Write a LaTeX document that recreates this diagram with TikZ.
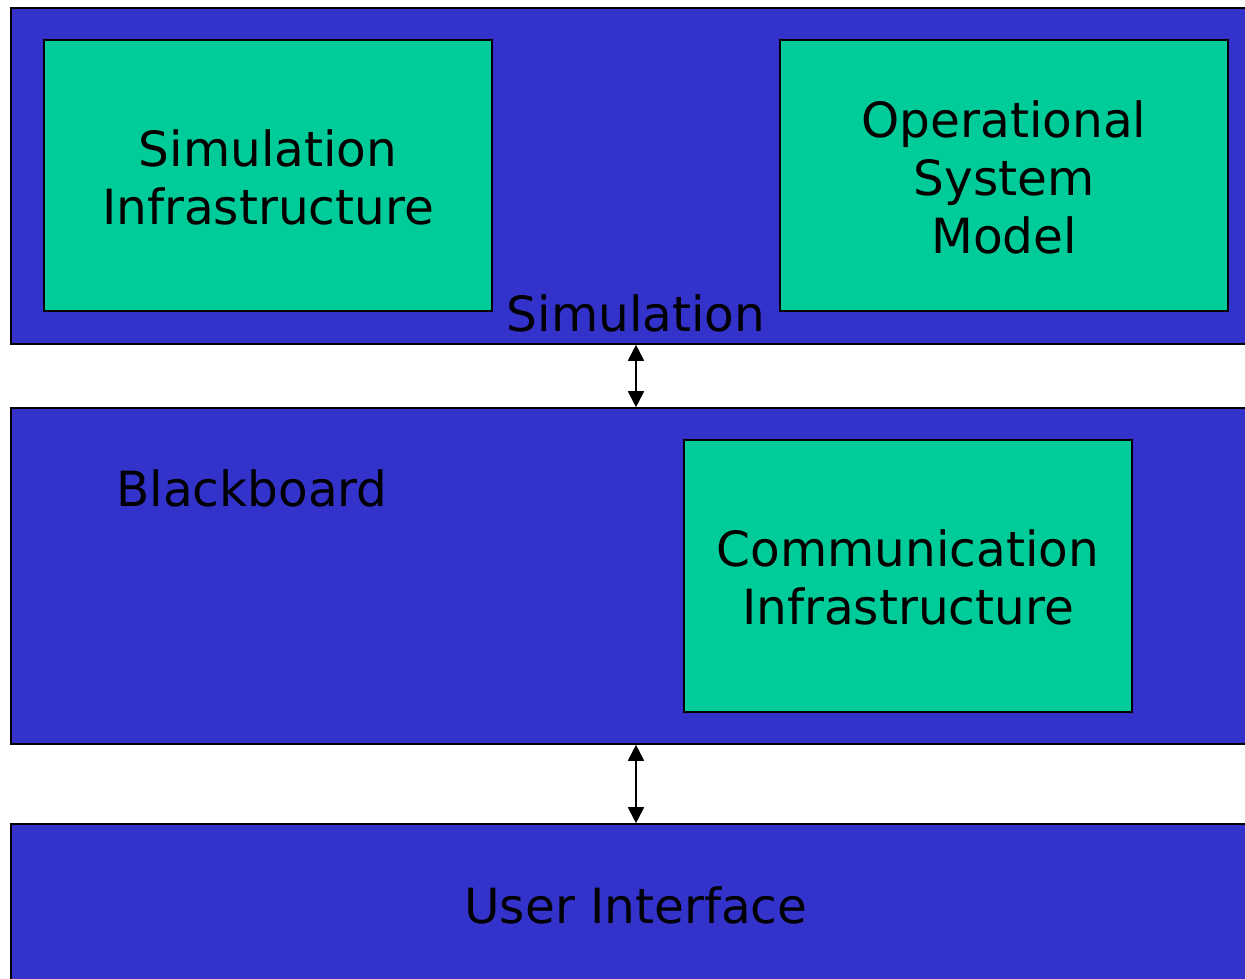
\documentclass[tikz,border=0pt]{standalone}
\usepackage{fontspec}
\setmainfont{DejaVu Sans}
\usetikzlibrary{arrows.meta}
\definecolor{bandblue}{HTML}{3333CC}
\definecolor{boxgreen}{HTML}{00CC99}
\begin{document}
\begin{tikzpicture}[x=1pt,y=-1pt,
  band/.style={draw=black,line width=1.6pt,fill=bandblue,inner sep=0pt,minimum width=1239pt},
  greenbox/.style={draw=black,line width=1.6pt,fill=boxgreen,inner sep=0pt,minimum width=448pt},
  lbl/.style={font=\fontsize{48.5}{58}\selectfont,align=center,inner sep=0pt},
  conn/.style={line width=1.8pt,{Triangle[length=16pt,width=16pt]}-{Triangle[length=16pt,width=16pt]}}]
\useasboundingbox (0,0) rectangle (1245,978);
\fill[white] (0,0) rectangle (1245,978);
% bands
\node[band,minimum height=336pt] (sim) at (630.5,176) {};
\node[band,minimum height=336pt] (bb) at (630.5,576) {};
\node[band,minimum height=166pt] (ui) at (630.5,907) {};
% green boxes
\node[greenbox,minimum height=271pt] (siminf) at (268,175.5) {};
\node[greenbox,minimum height=271pt] (osm) at (1004,175.5) {};
\node[greenbox,minimum height=272pt] (comm) at (908,576) {};
% texts
\node[lbl] (tsiminf) at (268,177) {Simulation\\Infrastructure};
\node[lbl] (tosm) at (1004,177) {Operational\\System\\Model};
\node[lbl] (tcomm) at (908,577) {Communication\\Infrastructure};
\node[lbl,anchor=base] (tsim) at (636,331) {Simulation};
\node[lbl,anchor=base] (tbb) at (252,506) {Blackboard};
\node[lbl,anchor=base] (tui) at (636,923) {User Interface};
% connectors
\coordinate (ax) at (636,0);
\draw[conn] (ax |- sim.south) -- (ax |- bb.north);
\draw[conn] (ax |- bb.south) -- (ax |- ui.north);
\end{tikzpicture}
\end{document}
